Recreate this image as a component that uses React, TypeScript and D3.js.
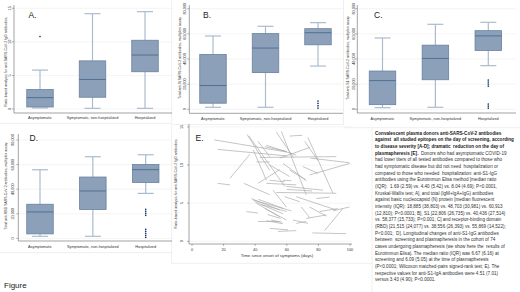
import React from "react";
import * as d3 from "d3";

const categories = ["Asymptomatic", "Symptomatic, non-hospitalized", "Hospitalized"];

// [lower whisker, Q1, median, Q3, upper whisker]
const boxesA = [
  [0.15, 0.3, 1.69, 2.89, 5.8],
  [0.1, 1.75, 4.4, 7.17, 14.2],
  [0.1, 5.55, 8.04, 10.24, 14.5],
];
const outliersA = [[10.8], [], []];

const boxesB = [
  [1600, 4850, 18885, 43653, 58300],
  [1600, 29200, 48703, 60181, 66000],
  [34400, 51300, 60913, 64110, 68900],
];
const outliersB = [[], [], [6600, 4800, 2900, 1000]];

const boxesC = [
  [1300, 3700, 22806, 30435, 56700],
  [1600, 23500, 40436, 51014, 67600],
  [34700, 46800, 58377, 62533, 69200],
];
const outliersC = [[], [], [23300, 21700, 20100, 18500, 4200, 2600, 1000]];

const boxesD = [
  [1700, 3700, 21515, 27777, 55800],
  [1700, 23500, 38556, 49893, 66400],
  [36600, 45500, 55869, 60022, 68000],
];
const outliersD = [[], [], [23600, 22000, 20400, 18800, 7400, 5800, 4200, 2500, 900]];

const ticksRatio = [0, 5, 10, 15];
const ticksTotal = [0, 20000, 40000, 60000, 80000];
const ticksDays = [0, 20, 40, 60, 80, 100];

// [day at screening, ratio, day at plasmapheresis, ratio]
const segmentsE = [
  [14.1, 13.3, 60.1, 11.7], [16.2, 12.05, 60.1, 11.2], [34.9, 14.0, 49.2, 9.3], [36.0, 13.8, 58.7, 7.2],
  [53.4, 14.3, 64.3, 11.0], [56.6, 14.4, 72.3, 6.1], [61.8, 13.8, 69.8, 13.9], [73.4, 13.6, 89.2, 6.3],
  [71.3, 13.1, 79.7, 10.6], [42.9, 11.0, 91.3, 11.1], [24.0, 8.25, 36.6, 11.4], [46.1, 12.4, 59.7, 11.8],
  [55.5, 10.9, 74.4, 12.3], [74.4, 8.7, 99.7, 10.2], [70.2, 9.8, 79.7, 8.9], [75.0, 10.9, 99.7, 10.3],
  [16.2, 7.6, 24.0, 7.4], [32.8, 7.6, 49.2, 6.1], [41.8, 7.6, 55.5, 9.4], [47.1, 7.6, 66.0, 7.4],
  [49.2, 8.0, 58.7, 7.8], [53.4, 6.4, 91.3, 6.3], [57.6, 8.0, 62.9, 7.95], [59.7, 7.2, 82.9, 6.7],
  [58.7, 5.85, 68.1, 5.2], [66.0, 5.85, 91.3, 4.1], [78.7, 5.6, 87.1, 5.8], [37.6, 5.6, 55.5, 4.1],
  [38.7, 5.4, 62.9, 4.0], [39.7, 5.2, 57.6, 3.6], [40.8, 5.0, 55.5, 3.2], [46.1, 4.3, 59.7, 2.8],
  [34.5, 3.9, 41.8, 3.7], [69.2, 4.5, 74.4, 3.1], [74.4, 4.5, 85.0, 3.3], [80.8, 3.9, 92.3, 4.3],
  [89.2, 4.0, 99.7, 4.5], [83.9, 1.4, 95.5, 4.3], [41.8, 2.6, 55.5, 2.6], [47.1, 2.7, 57.6, 2.3],
  [49.2, 1.7, 60.8, 1.5], [54.5, 1.3, 66.0, 1.4], [63.9, 2.8, 73.4, 2.35], [66.0, 2.35, 72.3, 2.6],
  [72.3, 3.0, 85.0, 3.45], [76.1, 1.1, 97.6, 1.0], [57.6, 10.2, 72.3, 8.0], [49.2, 10.0, 61.8, 8.5],
  [41.8, 13.1, 49.2, 11.1], [38.7, 12.0, 47.1, 8.0], [51.3, 6.7, 59.7, 4.5], [61.8, 9.35, 72.3, 8.0],
  [40.8, 10.4, 49.2, 10.4], [42.0, 5.5, 58.0, 4.3], [44.0, 4.8, 60.0, 3.9], [48.0, 3.5, 56.0, 3.0],
  [50.0, 2.8, 57.0, 2.5], [60.0, 6.8, 76.0, 6.6], [47.1, 12.6, 66.0, 11.3],
];

const captionBold = [
  "Convalescent plasma donors anti-SARS-CoV-2 antibodies",
  "against  all studied epitopes on the day of screening, according",
  "to disease severity [A-D]; dramatic  reduction on the day of",
];
const captionMixedBold = "plasmapheresis [E].";
const captionMixedRest = "  Donors who had asymptomatic COVID-19";
const captionLines = [
  "had lower titers of all tested antibodies compared to those who",
  "had symptomatic disease but did not need  hospitalization or",
  "compared to those who needed  hospitalization: anti-S1-IgG",
  "antibodies using the Euroimmun Elisa method [median ratio",
  "(IQR):  1.69 (2.59) vs. 4.40 (5.42) vs. 8.04 (4.69); P<0.0001,",
  "Kruskal-Wallis test; A], and total (IgM+IgA+IgG) antibodies",
  "against basic nucleocapsid (N) protein [median fluorescent",
  "intensity (IQR): 18,885 (38,803) vs. 48,703 (30,981) vs. 60,913",
  "(12,810); P<0.0001; B], S1 [22,806 (26,735) vs. 40,436 (27,514)",
  "vs. 58,377 (15,733); P<0.001; C] and receptor-binding domain",
  "(RBD) [21,515 (24,077) vs. 38,556 (26,393) vs. 55,869 (14,522);",
  "P<0.001;  D]. Longitudinal changes of anti-S1-IgG antibodies",
  "between  screening and plasmapheresis in the cohort of 74",
  "cases undergoing plasmapheresis (we show here the  results of",
  "Euroimmun Elisa). The median ratio (IQR) was 6.67 (6.16) at",
  "screening and 6.09 (5.05) at the time of plasmapheresis",
  "(P<0.0001; Wilcoxon matched-pairs signed-rank test; E). The",
  "respective values for anti-S1-IgA antibodies were 4.51 (7.01)",
  "versus 3.43 (4.90); P<0.0001.",
];

const FONT = "'Liberation Sans', Arial, sans-serif";
const BOX_FILL = "#8ca1b9";
const BOX_STROKE = "#6781a0";
const MEDIAN = "#4b6a8e";
const WHISKER = "#a9bccf";
const OUTLIER = "#1b3a68";
const AXIS = "#666";
const GRID = "#ececec";
const TXT = "#333";

type BoxProps = {
  boxes: number[][];
  outliers: number[][];
  ticks: number[];
  fmt: (v: number) => string;
  domainMax: number;
  y0: number;
  yTopVal: number;
  cxRange: [number, number];
  yAxisX: number;
  yAxisTop: number;
  xAxisY: number;
  xRight: number;
  tickLabelX: number;
  titleX: number;
  titleY: number;
  title: string;
  label: string;
  labelX: number;
  labelY: number;
  catY: number;
};

function BoxPanel(p: BoxProps) {
  const y = d3.scaleLinear().domain([0, p.domainMax]).range([p.y0, p.yTopVal]);
  const x = d3.scalePoint<string>().domain(categories).range(p.cxRange);
  const bw = 26.5;
  const cap = 16;
  return (
    <g>
      {p.ticks.map((t) => (
        <line key={"g" + t} x1={p.yAxisX} x2={p.xRight} y1={y(t)} y2={y(t)} stroke={GRID} strokeWidth={0.6} />
      ))}
      <line x1={p.yAxisX} x2={p.yAxisX} y1={p.yAxisTop} y2={p.xAxisY} stroke={AXIS} strokeWidth={0.6} />
      <line x1={p.yAxisX} x2={p.xRight} y1={p.xAxisY} y2={p.xAxisY} stroke={AXIS} strokeWidth={0.6} />
      {p.ticks.map((t) => (
        <g key={"t" + t}>
          <line x1={p.yAxisX - 2} x2={p.yAxisX} y1={y(t)} y2={y(t)} stroke={AXIS} strokeWidth={0.5} />
          <text
            transform={`translate(${p.tickLabelX},${y(t)}) rotate(-90)`}
            textAnchor="middle"
            fontSize={3.8}
            fill={TXT}
            fontFamily={FONT}
          >
            {p.fmt(t)}
          </text>
        </g>
      ))}
      <text
        transform={`translate(${p.titleX},${p.titleY}) rotate(-90)`}
        textAnchor="middle"
        fontSize={3.5}
        fill={TXT}
        fontFamily={FONT}
      >
        {p.title}
      </text>
      {categories.map((c, i) => {
        const cx = x(c) as number;
        const [lo, q1, med, q3, hi] = p.boxes[i];
        return (
          <g key={c}>
            <line x1={cx} x2={cx} y1={y(q3)} y2={y(hi)} stroke={WHISKER} strokeWidth={1.2} />
            <line x1={cx} x2={cx} y1={y(q1)} y2={y(lo)} stroke={WHISKER} strokeWidth={1.2} />
            <line x1={cx - cap / 2} x2={cx + cap / 2} y1={y(hi)} y2={y(hi)} stroke={WHISKER} strokeWidth={1.2} />
            <line x1={cx - cap / 2} x2={cx + cap / 2} y1={y(lo)} y2={y(lo)} stroke={WHISKER} strokeWidth={1.2} />
            <rect
              x={cx - bw / 2}
              y={y(q3)}
              width={bw}
              height={y(q1) - y(q3)}
              fill={BOX_FILL}
              stroke={BOX_STROKE}
              strokeWidth={0.8}
            />
            <line x1={cx - bw / 2} x2={cx + bw / 2} y1={y(med)} y2={y(med)} stroke={MEDIAN} strokeWidth={0.9} />
            {p.outliers[i].map((o, j) => (
              <circle key={j} cx={cx} cy={y(o)} r={0.85} fill={OUTLIER} />
            ))}
            <text x={cx} y={p.catY} textAnchor="middle" fontSize={3.8} fill={TXT} fontFamily={FONT}>
              {c}
            </text>
          </g>
        );
      })}
      <text x={p.labelX} y={p.labelY} fontSize={8.5} fill="#222" fontFamily={FONT}>
        {p.label}
      </text>
    </g>
  );
}

function PanelE() {
  const x = d3.scaleLinear().domain([0, 100]).range([192, 350]);
  const y = d3.scaleLinear().domain([0, 15]).range([241.3, 126.9]);
  const yAxisX = 189;
  const xAxisY = 244;
  return (
    <g>
      {ticksRatio.map((t) => (
        <line key={"g" + t} x1={yAxisX} x2={352} y1={y(t)} y2={y(t)} stroke={GRID} strokeWidth={0.6} />
      ))}
      {segmentsE.map((s, i) => (
        <line key={i} x1={x(s[0])} y1={y(s[1])} x2={x(s[2])} y2={y(s[3])} stroke="#a5a5a5" strokeWidth={0.65} />
      ))}
      <line x1={yAxisX} x2={yAxisX} y1={124} y2={xAxisY} stroke={AXIS} strokeWidth={0.6} />
      <line x1={yAxisX} x2={352} y1={xAxisY} y2={xAxisY} stroke={AXIS} strokeWidth={0.6} />
      {ticksRatio.map((t) => (
        <g key={"t" + t}>
          <line x1={yAxisX - 2} x2={yAxisX} y1={y(t)} y2={y(t)} stroke={AXIS} strokeWidth={0.5} />
          <text
            transform={`translate(${183.3},${y(t)}) rotate(-90)`}
            textAnchor="middle"
            fontSize={3.8}
            fill={TXT}
            fontFamily={FONT}
          >
            {t}
          </text>
        </g>
      ))}
      {ticksDays.map((t) => (
        <g key={"x" + t}>
          <line x1={x(t)} x2={x(t)} y1={xAxisY} y2={xAxisY + 2} stroke={AXIS} strokeWidth={0.5} />
          <text x={x(t)} y={xAxisY + 6.5} textAnchor="middle" fontSize={3.8} fill={TXT} fontFamily={FONT}>
            {t}
          </text>
        </g>
      ))}
      <text x={277} y={257} textAnchor="middle" fontSize={4.4} fill={TXT} fontFamily={FONT}>
        Time since onset of symptoms (days)
      </text>
      <text
        transform={`translate(${176.5},${184}) rotate(-90)`}
        textAnchor="middle"
        fontSize={3.5}
        fill={TXT}
        fontFamily={FONT}
      >
        Ratio-based analysis for anti-SARS-CoV-2 IgG antibodies
      </text>
      <text x={195.5} y={141} fontSize={8.5} fill="#222" fontFamily={FONT}>
        E.
      </text>
    </g>
  );
}

function Caption() {
  const x0 = 375;
  const first = 134.5;
  const step = 6.68;
  return (
    <g fontFamily={FONT} fontSize={4.6}>
      {captionBold.map((l, i) => (
        <text key={"b" + i} x={x0} y={first + i * step} fontWeight="bold" fill="#1a1a1a" xmlSpace="preserve">
          {l}
        </text>
      ))}
      <text x={x0} y={first + 3 * step} fill={TXT} xmlSpace="preserve">
        <tspan fontWeight="bold" fill="#1a1a1a">{captionMixedBold}</tspan>
        <tspan>{captionMixedRest}</tspan>
      </text>
      {captionLines.map((l, i) => (
        <text key={"n" + i} x={x0} y={first + (i + 4) * step} fill={TXT} xmlSpace="preserve">
          {l}
        </text>
      ))}
    </g>
  );
}

export default function App() {
  const fmtRatio = (v: number) => String(v);
  const fmtTotal = d3.format(",");
  const frame = "#e4e4e4";
  return (
    <svg
      width={520}
      height={292}
      viewBox="0 0 520 292"
      style={{ position: "absolute", left: 0, top: 0, background: "#fff" }}
    >
      <rect x={0} y={0} width={520} height={292} fill="#fff" />
      <line x1={0} x2={172} y1={123.3} y2={123.3} stroke={frame} strokeWidth={0.6} />
      <line x1={171.7} x2={171.7} y1={0} y2={123.3} stroke={frame} strokeWidth={0.6} />
      <line x1={172} x2={344} y1={124.5} y2={124.5} stroke={frame} strokeWidth={0.6} />
      <line x1={343.5} x2={343.5} y1={0} y2={124.5} stroke={frame} strokeWidth={0.6} />
      <line x1={344} x2={520} y1={127.7} y2={127.7} stroke={frame} strokeWidth={0.6} />
      <line x1={0} x2={171.7} y1={252.7} y2={252.7} stroke={frame} strokeWidth={0.6} />
      <line x1={171.7} x2={171.7} y1={124.5} y2={263.3} stroke={frame} strokeWidth={0.6} />
      <line x1={171.7} x2={372} y1={263.3} y2={263.3} stroke={frame} strokeWidth={0.6} />
      <line x1={372} x2={372} y1={127.7} y2={292} stroke={frame} strokeWidth={0.6} />

      <BoxPanel
        boxes={boxesA}
        outliers={outliersA}
        ticks={ticksRatio}
        fmt={fmtRatio}
        domainMax={15}
        y0={109}
        yTopVal={8.3}
        cxRange={[40, 145]}
        yAxisX={14}
        yAxisTop={5}
        xAxisY={113}
        xRight={172}
        tickLabelX={11}
        titleX={7}
        titleY={62}
        title="Ratio-based analysis for anti-SARS-CoV-2 IgG antibodies"
        label="A."
        labelX={28.5}
        labelY={18}
        catY={119.3}
      />
      <BoxPanel
        boxes={boxesB}
        outliers={outliersB}
        ticks={ticksTotal}
        fmt={fmtTotal}
        domainMax={80000}
        y0={109.3}
        yTopVal={8.7}
        cxRange={[213, 318]}
        yAxisX={189.3}
        yAxisTop={5}
        xAxisY={113.3}
        xRight={343}
        tickLabelX={186.3}
        titleX={180.5}
        titleY={58}
        title="Total anti-N SARS-CoV-2 antibodies, multiplex assay"
        label="B."
        labelX={203}
        labelY={18}
        catY={119.5}
      />
      <BoxPanel
        boxes={boxesC}
        outliers={outliersC}
        ticks={ticksTotal}
        fmt={fmtTotal}
        domainMax={80000}
        y0={109.3}
        yTopVal={8.7}
        cxRange={[382.5, 488.3]}
        yAxisX={357.3}
        yAxisTop={5}
        xAxisY={113}
        xRight={516}
        tickLabelX={354.5}
        titleX={348.8}
        titleY={58}
        title="Total anti-S1 SARS-CoV-2 antibodies, multiplex assay"
        label="C."
        labelX={374}
        labelY={18}
        catY={119.5}
      />
      <BoxPanel
        boxes={boxesD}
        outliers={outliersD}
        ticks={ticksTotal}
        fmt={fmtTotal}
        domainMax={80000}
        y0={238.4}
        yTopVal={140}
        cxRange={[40, 145.7]}
        yAxisX={18.3}
        yAxisTop={134}
        xAxisY={241}
        xRight={172}
        tickLabelX={14.3}
        titleX={6.8}
        titleY={186}
        title="Total anti-RBD SARS-CoV-2 antibodies, multiplex assay"
        label="D."
        labelX={29.5}
        labelY={141}
        catY={247.8}
      />
      <PanelE />
      <Caption />
      <text x={4} y={287.5} fontSize={8} fill="#222" fontFamily={FONT}>
        Figure
      </text>
    </svg>
  );
}
